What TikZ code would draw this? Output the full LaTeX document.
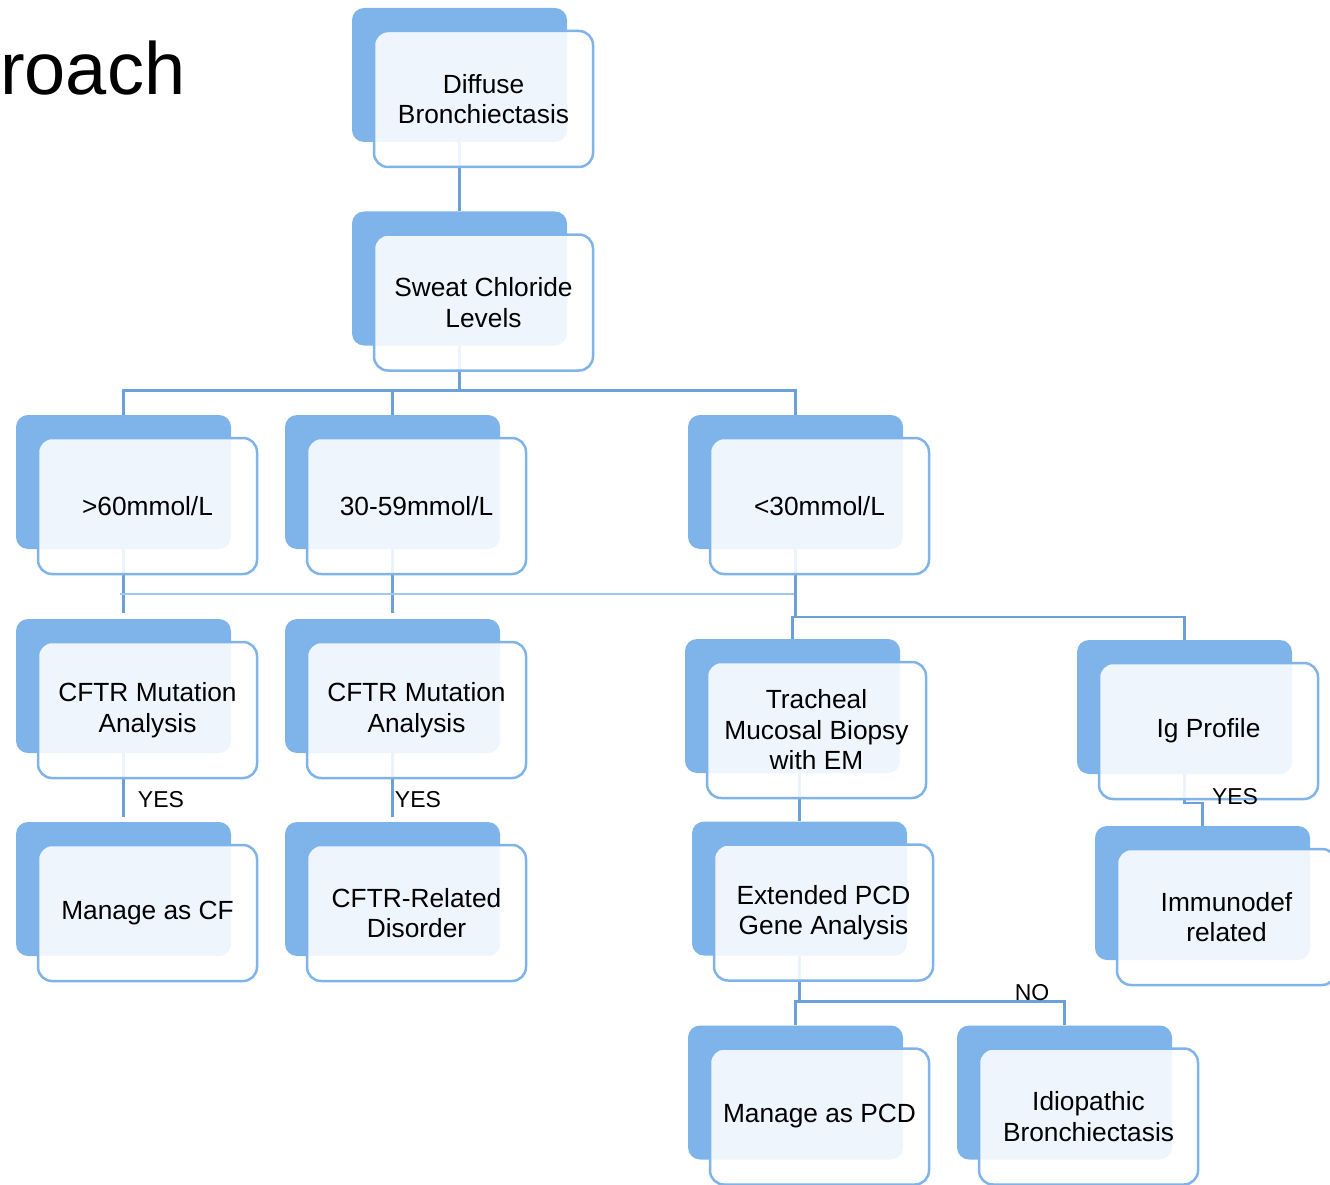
\documentclass[tikz,border=0pt]{standalone}
\usepackage{fontspec}
\setmainfont{Liberation Sans}
\definecolor{boxblue}{RGB}{126,180,234}
\definecolor{linkblue}{RGB}{108,160,216}
\definecolor{paleblue}{RGB}{160,200,240}
\tikzset{
  back/.style={fill=boxblue, rounded corners=12pt, minimum width=215pt, minimum height=134pt, inner sep=0pt},
  front/.style={draw=boxblue, line width=2.5pt, fill=white, fill opacity=0.88, text opacity=1,
    rounded corners=14pt, minimum width=219pt, minimum height=136pt, inner sep=0pt,
    align=center, font=\fontsize{26.3}{30.5}\selectfont, xshift=24pt, yshift=-24pt},
  link/.style={draw=linkblue, line width=2.5pt},
  tag/.style={font=\fontsize{23}{27}\selectfont, inner sep=0pt}
}
\begin{document}
\begin{tikzpicture}[x=1pt,y=-1pt]
        \clip (0,0) rectangle (1330,1185);
        \node[anchor=base west, inner sep=0pt, font=\fontsize{74}{80}\selectfont] (title) at (0,95) {roach};
        % back panels
        \node[back] (dbB) at (459.5,75) {};
        \node[back] (scB) at (459.5,278.5) {};
        \node[back] (hiB) at (123.5,482) {};
        \node[back] (midB) at (392.5,482) {};
        \node[back] (loB) at (795.5,482) {};
        \node[back] (cf1B) at (123.5,686) {};
        \node[back] (cf2B) at (392.5,686) {};
        \node[back] (trB) at (792.5,706) {};
        \node[back] (igB) at (1184.5,707) {};
        \node[back] (mcfB) at (123.5,889) {};
        \node[back] (crdB) at (392.5,889) {};
        \node[back] (pcdB) at (799.5,888.5) {};
        \node[back] (imB) at (1202.5,893) {};
        \node[back] (mpB) at (795.5,1092.5) {};
        \node[back] (idB) at (1064.5,1092.5) {};
        % connectors
        \draw[link] (dbB.south) -- (scB.north);
        \draw[link] (scB.south) -- ++(0,45) coordinate (scJ);
        \draw[link] (hiB.north) |- (scJ) -| (loB.north);
        \draw[link] (midB.north) -- (midB.north |- scJ);
        \draw[link] (hiB.south) -- ([yshift=6pt]cf1B.north);
        \draw[link] (midB.south) -- ([yshift=6pt]cf2B.north);
        \draw[draw=paleblue, line width=1.8pt] ([xshift=-4pt, yshift=-45pt]hiB.south) -- ([yshift=-45pt]loB.south);
        \draw[link] (loB.south) -- ++(0,68) coordinate (loJ);
        \draw[link] (trB.north) |- (loJ) -| (igB.north);
        \draw[link] (cf1B.south) -- ([yshift=5pt]mcfB.north);
        \draw[link] (cf2B.south) -- ([yshift=5pt]crdB.north);
        \draw[link] (pcdB.north) -- (pcdB.north |- trB.south);
        \draw[link] (igB.south) -- ++(0,29) -| (imB.north);
        \draw[link] (pcdB.south) -- ++(0,46) coordinate (pcdJ);
        \draw[link] (mpB.north) |- (pcdJ) -| (idB.north);
        % front panels
        \node[front] (db) at (dbB) {Diffuse\\Bronchiectasis};
        \node[front] (sc) at (scB) {Sweat Chloride\\Levels};
        \node[front] (hi) at (hiB) {>60mmol/L};
        \node[front] (mid) at (midB) {30-59mmol/L};
        \node[front] (lo) at (loB) {<30mmol/L};
        \node[front] (cf1) at (cf1B) {CFTR Mutation\\Analysis};
        \node[front] (cf2) at (cf2B) {CFTR Mutation\\Analysis};
        \node[front] (tr) at (trB) {Tracheal\\Mucosal Biopsy\\with EM};
        \node[front] (ig) at (igB) {Ig Profile};
        \node[front] (mcf) at (mcfB) {Manage as CF};
        \node[front] (crd) at (crdB) {CFTR-Related\\Disorder};
        \node[front] (pcd) at (pcdB) {Extended PCD\\Gene Analysis};
        \node[front] (im) at (imB) {Immunodef\\related};
        \node[front] (mp) at (mpB) {Manage as PCD};
        \node[front] (id) at (idB) {Idiopathic\\Bronchiectasis};
        % branch labels
        \node[tag] (yes1) at (161,800) {YES};
        \node[tag] (yes2) at (418,800) {YES};
        \node[tag] (yes3) at (1235,797) {YES};
        \node[tag] (no1) at (1032,993) {NO};
    \end{tikzpicture}
\end{document}
